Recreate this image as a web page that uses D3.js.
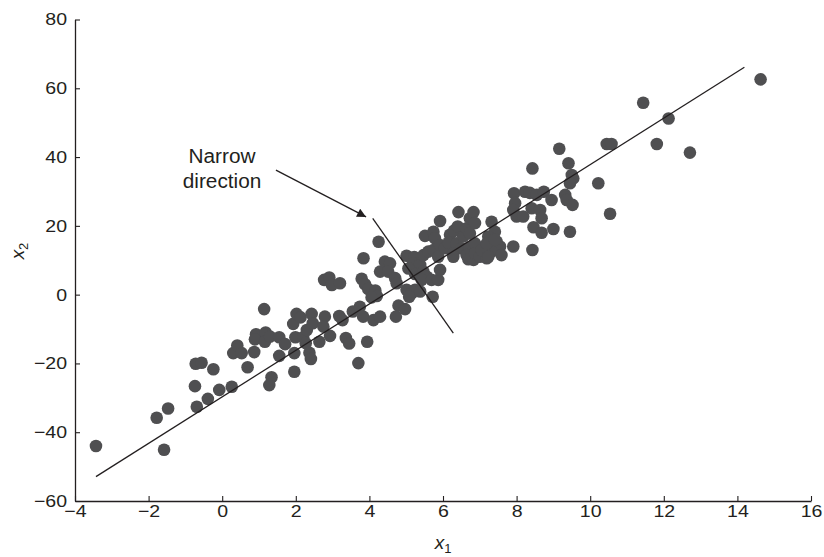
<!doctype html>
<html>
<head>
<meta charset="utf-8">
<style type="text/css">
html,body{
    margin: 0;
    background: #ffffff;
    overflow: hidden;
}
text {
    font-family: "Liberation Sans", Arial, sans-serif;
    fill: #231f20;
}
</style>
<script type="text/javascript" src="https://cdn.jsdelivr.net/npm/d3@7"></script>
</head>
<body>
<script type="text/javascript">
// scatter values
var x1Values = [
    -3.43,-1.78,-1.47,-1.58,-0.74,-0.69,-0.39,-0.08,0.26,-0.72,-0.56,-0.24,0.30,0.41,0.53,0.69,0.87,0.92,0.89,1.14,
    1.18,1.16,1.30,1.34,1.28,1.55,1.71,1.55,1.96,1.96,1.93,2.02,2.13,1.99,2.20,2.30,2.27,2.37,2.41,2.43,
    2.46,2.64,2.79,2.75,2.93,3.18,2.77,2.91,2.98,3.20,3.27,3.36,3.45,3.55,3.74,3.83,4.11,4.29,3.79,3.88,
    3.97,3.84,3.94,3.70,4.16,4.20,4.06,4.25,4.42,4.56,4.29,4.51,4.70,4.74,4.79,4.97,4.72,5.01,5.15,5.24,
    5.08,5.38,5.72,5.01,5.22,5.19,5.38,5.06,5.24,5.47,5.56,5.42,5.69,5.87,5.92,5.51,5.74,5.78,5.92,5.47,
    5.60,5.74,5.87,5.92,6.05,6.19,6.30,6.40,6.42,6.15,6.37,6.50,6.28,6.28,6.55,6.64,6.73,6.73,6.83,6.87,
    6.69,6.73,6.87,6.64,6.69,6.83,6.87,7.00,7.19,7.32,7.41,7.23,7.46,7.28,7.55,7.32,7.59,7.05,7.19,7.41,
    7.23,7.93,8.23,8.36,8.55,8.74,7.96,7.91,8.00,8.18,8.41,8.64,8.68,8.95,9.32,9.36,9.52,8.46,8.68,9.00,
    9.45,7.91,8.43,8.43,9.16,9.41,9.50,9.54,9.45,10.22,10.54,10.45,10.58,11.44,12.13,11.81,12.71,14.63
];
var x2Values = [
    -44.0,-35.8,-33.1,-45.1,-26.6,-32.6,-30.3,-27.7,-26.8,-20.1,-19.8,-21.7,-17.0,-14.8,-17.0,-21.1,-16.7,-11.5,-13.0,-4.2,
    -11.0,-13.7,-12.2,-24.0,-26.3,-12.4,-14.4,-17.8,-22.4,-17.0,-8.5,-5.6,-6.6,-12.4,-12.4,-10.3,-14.1,-16.9,-18.7,-5.6,
    -8.3,-13.7,-6.4,-9.3,-12.0,-6.2,4.3,5.0,2.8,3.3,-7.4,-12.6,-14.2,-4.9,-3.5,-6.4,-7.4,-6.4,4.6,3.0,
    1.6,10.6,-13.7,-19.9,1.2,-0.4,-0.8,15.4,9.6,9.1,6.7,6.7,4.8,3.3,-3.2,-4.2,-6.4,1.4,0.4,1.4,
    -0.6,0.9,-0.6,11.3,10.9,9.1,8.6,7.6,6.0,6.7,5.2,4.3,4.3,4.3,7.2,17.1,18.3,16.4,21.4,11.5,
    12.5,13.0,11.0,14.4,13.5,17.4,18.6,19.8,24.0,15.1,14.9,13.5,12.0,11.0,16.9,19.3,17.8,22.2,24.0,20.8,
    12.5,13.8,14.9,11.5,10.3,10.1,12.0,11.0,10.6,21.2,18.3,16.9,15.4,14.4,14.0,12.5,11.5,13.0,14.9,16.0,
    11.0,29.5,29.9,29.6,29.0,29.9,26.6,24.6,22.7,22.7,25.1,24.6,22.2,27.5,29.0,27.5,26.1,19.6,18.0,19.1,
    18.3,14.0,13.0,36.7,42.4,38.2,34.8,33.8,32.4,32.4,23.5,43.8,43.8,55.8,51.2,43.8,41.3,62.6
];

// fitted line, narrow direction and arrow (end points in data units)
var fitLineX = [-3.43, 14.19];
var fitLineY = [-52.9, 66.1];
var narrowX = [4.09, 6.28];
var narrowY = [22.2, -11.2];
var arrowX = [1.46, 3.91];
var arrowY = [36.2, 22.6];
var noteLines = ["Narrow", "direction"];

var xTicks = [-4,-2,0,2,4,6,8,10,12,14,16];
var yTicks = [-60,-40,-20,0,20,40,60,80];

(function(){
    var w = 824, h = 557;
    var x = d3.scaleLinear().domain([-4, 16]).range([75, 811]);
    var y = d3.scaleLinear().domain([-60, 80]).range([501, 19.5]);
    var ink = "#231f20";

    var svg = d3.select("body").append("svg")
        .attr("width", w)
        .attr("height", h);

    var defs = svg.append("defs");
    defs.append("marker")
        .attr("id", "head")
        .attr("viewBox", "0 0 10 10")
        .attr("refX", 10).attr("refY", 5)
        .attr("markerWidth", 15).attr("markerHeight", 9)
        .attr("markerUnits", "userSpaceOnUse")
        .attr("orient", "auto")
        .append("path")
        .attr("d", "M0,0 L10,5 L0,10 z")
        .attr("fill", ink);

    // axes, ticks point inwards
    var stretch = 1.15;
    var gx = svg.append("g")
        .attr("transform", "translate(0," + y(-60) + ")")
        .call(d3.axisBottom(x).tickValues(xTicks).tickSizeInner(-5).tickSizeOuter(0).tickPadding(4));
    var gy = svg.append("g")
        .attr("transform", "translate(" + x(-4) + ",0)")
        .call(d3.axisLeft(y).tickValues(yTicks).tickSizeInner(-5).tickSizeOuter(0).tickPadding(8));

    [gx, gy].forEach(function(g){
        g.select(".domain").attr("stroke", ink).attr("stroke-width", 1.3);
        g.selectAll(".tick line").attr("stroke", ink).attr("stroke-width", 1.1);
        g.selectAll(".tick text")
            .attr("font-family", "Liberation Sans, Arial, sans-serif")
            .attr("font-size", 17)
            .attr("fill", ink);
    });
    gx.selectAll(".tick text").attr("transform", "scale(" + stretch + ",1)");
    gy.selectAll(".tick text").attr("transform", "translate(-8,0) scale(" + stretch + ",1) translate(8,0)");

    // points
    var pts = d3.range(x1Values.length).map(function(i){ return {a: x1Values[i], b: x2Values[i]}; });
    svg.append("g").selectAll("circle")
        .data(pts)
        .enter().append("circle")
        .attr("cx", function(d){ return x(d.a); })
        .attr("cy", function(d){ return y(d.b); })
        .attr("r", 6.3)
        .attr("fill", "#4f4f51");

    var line = d3.line().x(function(d){ return x(d[0]); }).y(function(d){ return y(d[1]); });
    svg.append("path")
        .attr("d", line(d3.zip(fitLineX, fitLineY)))
        .attr("stroke", ink).attr("stroke-width", 1.3).attr("fill", "none");
    svg.append("path")
        .attr("d", line(d3.zip(narrowX, narrowY)))
        .attr("stroke", ink).attr("stroke-width", 1.3).attr("fill", "none");
    svg.append("path")
        .attr("d", line(d3.zip(arrowX, arrowY)))
        .attr("stroke", ink).attr("stroke-width", 1.3).attr("fill", "none")
        .attr("marker-end", "url(#head)");

    // note text
    var note = svg.append("g").attr("transform", "translate(222,0)");
    note.selectAll("text")
        .data(noteLines)
        .enter().append("text")
        .attr("y", function(d, i){ return 163 + i * 25; })
        .attr("text-anchor", "middle")
        .attr("font-size", 20)
        .attr("transform", "scale(1.04,1)")
        .text(function(d){ return d; });

    // axis titles
    var xt = svg.append("text")
        .attr("x", x(6)).attr("y", 549)
        .attr("text-anchor", "middle")
        .attr("font-size", 19);
    xt.append("tspan").attr("font-style", "italic").text("x");
    xt.append("tspan").attr("font-size", 13).attr("dy", 4).text("1");

    var yt = svg.append("text")
        .attr("transform", "translate(24,251) rotate(-90)")
        .attr("text-anchor", "middle")
        .attr("font-size", 19);
    yt.append("tspan").attr("font-style", "italic").text("x");
    yt.append("tspan").attr("font-size", 13).attr("dy", 4).text("2");
})();
</script>
</body>
</html>
